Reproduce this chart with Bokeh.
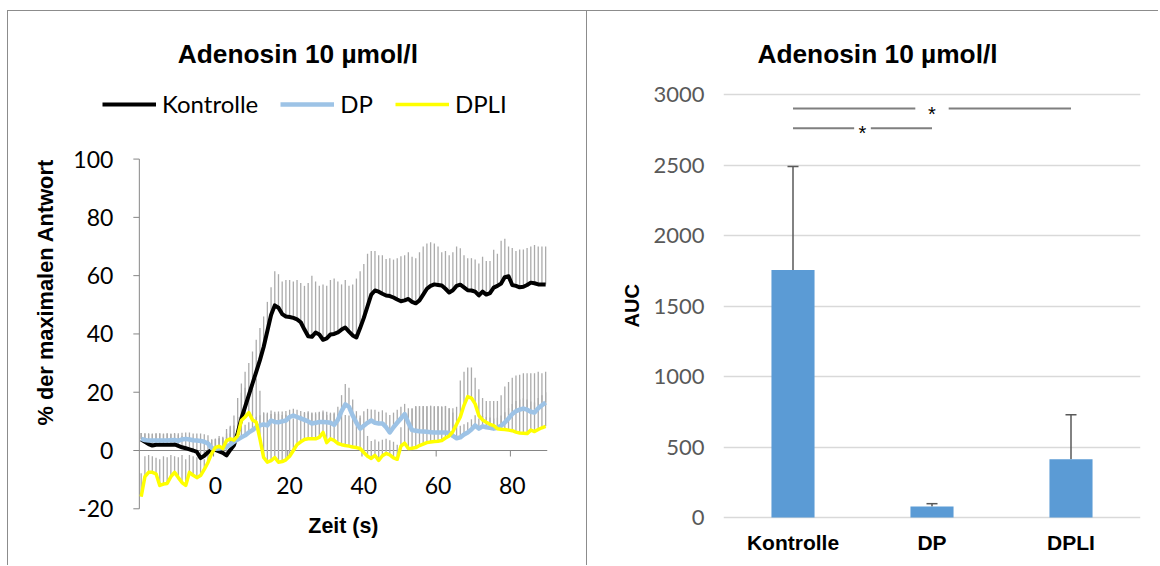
import math
from bokeh.plotting import figure
from bokeh.layouts import row
from bokeh.models import (ColumnDataSource, FactorRange, FixedTicker, Legend,
                          LegendItem, Whisker, TeeHead, Range1d, Title)
from bokeh.embed import file_html
from bokeh.resources import INLINE
from bokeh.core.properties import value

# ---------------- data ----------------
# time course, one sample per second
time_s = list(range(-20, 90))

kontrolle_mean = [
    3.8, 3.0, 2.2, 1.7, 2.0, 2.0, 2.0, 2.0, 2.0, 2.1,
    1.6, 1.1, 0.8, 0.4, 0.0, -0.5, -2.6, -1.8, -0.6, 0.3,
    0.2, -0.3, -0.8, -1.7, 0.2, 1.8, 6.0, 11.0, 15.0, 19.0,
    23.0, 27.0, 31.0, 35.5, 41.0, 46.5, 49.8, 49.0, 46.8, 46.0,
    45.8, 45.5, 45.0, 44.0, 41.5, 39.2, 39.0, 40.5, 39.8, 38.0,
    38.5, 39.8, 40.0, 40.5, 41.5, 42.2, 40.8, 39.5, 38.8, 42.0,
    45.5, 49.5, 53.5, 54.9, 54.5, 53.8, 53.2, 53.0, 52.5, 51.8,
    51.2, 51.5, 52.0, 51.0, 50.5, 51.5, 53.5, 55.5, 56.5, 57.0,
    56.8, 56.6, 55.5, 54.2, 55.0, 56.5, 56.9, 56.0, 55.0, 54.9,
    54.5, 53.2, 54.5, 53.5, 54.0, 55.9, 56.5, 57.3, 59.5, 59.8,
    56.8, 56.5, 56.0, 56.2, 56.8, 57.6, 57.4, 57.0, 57.0, 57.0,
]
kontrolle_sem = [
    2.2, 2.8, 3.5, 4.0, 3.8, 3.8, 3.6, 3.8, 3.7, 3.6,
    3.8, 3.8, 3.9, 4.2, 4.4, 4.6, 5.5, 4.8, 4.0, 3.5,
    3.8, 4.5, 5.5, 7.5, 7.8, 10.2, 12.0, 12.0, 12.0, 11.0,
    11.0, 11.0, 11.0, 10.5, 10.0, 9.5, 11.7, 11.5, 11.2, 12.5,
    12.7, 12.5, 13.5, 13.5, 15.0, 18.3, 21.0, 17.5, 16.7, 19.0,
    18.0, 18.7, 19.0, 17.5, 15.5, 16.3, 15.7, 17.5, 20.2, 19.5,
    18.5, 18.0, 15.0, 13.6, 12.5, 13.2, 12.5, 13.0, 13.0, 14.2,
    15.5, 15.5, 16.0, 15.5, 15.5, 16.5, 16.5, 15.5, 15.0, 14.0,
    13.2, 11.4, 13.0, 12.8, 13.0, 13.5, 12.5, 11.0, 11.0, 11.1,
    11.0, 11.0, 12.0, 11.5, 11.0, 13.0, 11.0, 14.7, 13.2, 10.2,
    12.7, 12.0, 13.0, 12.8, 12.7, 12.4, 13.1, 13.0, 13.0, 13.0,
]
dp_mean = [
    4.0, 3.6, 3.4, 3.4, 3.4, 3.4, 3.4, 3.4, 3.5, 3.6,
    3.3, 3.8, 4.0, 3.8, 3.5, 3.4, 3.3, 3.0, 2.4, 0.8,
    0.6, 0.7, 0.9, 1.1, 2.0, 3.0, 3.8, 4.5, 5.2, 6.2,
    7.0, 8.0, 8.6, 9.0, 8.6, 10.3, 9.8, 9.7, 10.0, 10.3,
    11.5, 12.0, 11.5, 11.0, 10.5, 10.0, 9.3, 9.5, 9.8, 9.8,
    9.7, 9.5, 8.8, 10.5, 13.5, 15.8, 15.0, 12.0, 9.5, 7.5,
    8.5, 9.5, 10.3, 9.5, 9.3, 9.3, 8.0, 6.2, 8.0, 9.5,
    11.0, 12.5, 9.5, 7.0, 6.8, 6.6, 6.5, 6.4, 6.3, 6.2,
    6.2, 6.2, 6.2, 6.0, 5.0, 4.2, 4.5, 5.5, 6.2, 7.2,
    8.6, 7.5, 8.3, 8.0, 7.8, 7.5, 7.8, 8.5, 9.6, 11.0,
    12.5, 13.5, 14.0, 14.4, 14.0, 13.3, 13.0, 14.5, 15.5, 16.5,
]
dp_sem = [
    2.0, 2.3, 2.5, 2.4, 2.5, 2.5, 2.4, 2.5, 2.3, 2.4,
    2.6, 2.3, 2.2, 2.4, 2.3, 2.4, 2.5, 2.6, 2.8, 3.0,
    3.2, 3.4, 3.5, 3.6, 3.8, 3.5, 3.4, 3.5, 3.6, 3.5,
    3.4, 3.6, 3.5, 3.8, 3.9, 3.4, 3.5, 3.7, 3.4, 3.3,
    2.5, 2.3, 2.5, 2.6, 2.7, 3.0, 3.5, 3.6, 3.5, 3.3,
    3.6, 3.5, 3.8, 4.5, 5.5, 7.0, 6.5, 5.5, 4.0, 4.5,
    5.0, 4.8, 3.8, 4.5, 4.0, 4.5, 5.0, 6.0, 5.0, 4.5,
    4.0, 3.5, 5.0, 7.5, 8.5, 8.6, 8.8, 8.8, 8.9, 9.0,
    9.0, 9.0, 9.0, 8.5, 8.0, 4.5, 4.0, 3.5, 3.5, 3.5,
    3.5, 3.5, 3.5, 3.5, 3.5, 3.5, 3.5, 3.5, 3.5, 3.5,
    3.5, 3.5, 3.5, 3.5, 3.5, 3.5, 3.5, 3.5, 3.5, 3.5,
]
dpli_mean = [
    -15.8, -9.0, -7.5, -7.5, -8.0, -12.0, -11.5, -11.3, -9.0, -7.5,
    -9.3, -11.0, -12.0, -7.5, -8.5, -9.3, -8.6, -6.5, -4.1, -1.0,
    1.0, 1.5, 0.7, 3.4, 4.0, 3.6, 5.0, 10.3, 11.5, 13.0,
    10.5, 9.7, 4.0, -2.4, -4.0, -3.5, -2.4, -4.0, -3.8, -3.2,
    -2.0, 0.0, 2.0, 3.0, 3.8, 4.0, 4.0, 4.0, 4.5, 6.2,
    2.7, 4.0, 3.5, 2.4, 2.0, 1.7, 1.5, 1.2, 1.0, 0.7,
    -0.7, -2.0, -2.7, -1.7, -3.4, -1.8, -1.0, -1.5, -2.5, -3.0,
    1.5, 2.5, 0.7, 0.8, 1.0, 1.7, 2.2, 2.7, 2.9, 3.1,
    3.2, 3.4, 4.3, 5.0, 6.5, 9.0, 11.5, 15.5, 18.5, 18.0,
    16.0, 12.0, 10.5, 9.7, 9.0, 8.5, 7.5, 7.3, 7.2, 7.0,
    6.8, 6.3, 6.0, 5.9, 5.8, 7.0, 6.5, 7.2, 7.8, 8.3,
]
dpli_sem = [
    8.0, 7.0, 6.0, 5.5, 5.5, 9.0, 9.5, 9.0, 7.5, 5.5,
    7.0, 9.5, 9.0, 6.0, 6.5, 7.0, 6.5, 3.5, 3.0, 2.5,
    3.0, 3.5, 3.5, 4.0, 4.5, 5.0, 6.5, 9.5, 10.0, 9.0,
    12.0, 15.0, 16.5, 15.5, 17.0, 16.0, 15.0, 16.5, 16.0, 15.5,
    13.5, 11.0, 10.0, 9.0, 9.0, 9.5, 9.0, 8.5, 8.5, 7.5,
    9.5, 8.5, 9.5, 10.0, 10.5, 10.5, 10.5, 11.0, 11.0, 10.5,
    9.0, 7.0, 6.0, 5.5, 6.5, 5.5, 5.0, 5.0, 5.5, 5.0,
    6.5, 9.0, 12.0, 13.5, 14.0, 13.5, 13.0, 12.5, 12.5, 12.0,
    12.0, 11.5, 11.0, 9.5, 8.0, 6.0, 12.5, 11.5, 10.0, 10.5,
    9.0, 9.0, 7.5, 7.3, 8.0, 8.5, 9.5, 11.7, 14.8, 16.5,
    18.2, 19.4, 20.0, 20.6, 20.7, 19.5, 20.0, 19.8, 18.7, 18.7,
]

time_ticks = [0, 20, 40, 60, 80]
pct_ticks = [-20, 0, 20, 40, 60, 80, 100]

groups = ["Kontrolle", "DP", "DPLI"]
auc_mean = [1755, 78, 413]
auc_sem = [735, 20, 315]
auc_ticks = [0, 500, 1000, 1500, 2000, 2500, 3000]

# significance brackets: (group a, group b, height)
brackets = [("Kontrolle", "DPLI", 2900), ("Kontrolle", "DP", 2760)]

TITLE = "Adenosin 10 µmol/l"
BODY_FONT = "Lato"
BOLD_FONT = "Liberation Sans"
PANEL_BORDER = "1px solid #8c8c8c"
AXIS_GREY = "#868686"

# Both frames fill their panel height (row layouts align frames); titles,
# legend and category labels live inside the padded view ranges.
X_VIEW = (-40.13, 89.5)
PCT_VIEW = (-39.80, 150.64)
AUC_VIEW = (-347.5, 3588.7)

# ---------------- time course panel ----------------
x_lo, x_hi = time_s[0] - 0.5, time_s[-1] + 0.5
p1 = figure(width=580, height=555, x_range=Range1d(*X_VIEW),
            y_range=Range1d(*PCT_VIEW),
            output_backend="svg", toolbar_location=None,
            x_axis_location=None, y_axis_location=None,
            min_border_left=58, min_border_right=41,
            min_border_top=0, min_border_bottom=0)
p1.grid.visible = False
p1.outline_line_color = None
p1.margin = (10, 0, 0, 7)
p1.styles = {"border-top": PANEL_BORDER, "border-left": PANEL_BORDER,
             "border-right": PANEL_BORDER}

# value axis at the start of the time window
p1.segment(x0=[x_lo], y0=[pct_ticks[0]], x1=[x_lo], y1=[pct_ticks[-1]],
           line_color=AXIS_GREY, line_width=1)
p1.ray(x=[x_lo] * len(pct_ticks), y=pct_ticks, length=6, length_units="screen",
       angle=math.pi, line_color=AXIS_GREY, line_width=1)
p1.text(x=[x_lo] * len(pct_ticks), y=pct_ticks, text=[str(t) for t in pct_ticks],
        x_offset=-26, text_align="right", text_baseline="middle",
        text_font=value(BODY_FONT), text_font_size="23px", text_color="black")

# time axis running through zero
p1.segment(x0=[x_lo], y0=[0], x1=[x_hi], y1=[0], line_color=AXIS_GREY, line_width=1)
p1.ray(x=[t - 0.5 for t in time_ticks], y=[0] * len(time_ticks), length=6,
       length_units="screen", angle=-math.pi / 2, line_color=AXIS_GREY, line_width=1)
p1.text(x=time_ticks, y=[-12] * len(time_ticks), text=[str(t) for t in time_ticks],
        text_align="center", text_baseline="middle",
        text_font=value(BODY_FONT), text_font_size="23px", text_color="black")
p1.text(x=[(x_lo + x_hi) / 2], y=[-26], text=["Zeit (s)"],
        text_align="center", text_baseline="middle",
        text_font=value(BOLD_FONT), text_font_style="bold",
        text_font_size="21.4px", text_color="black")

# SEM bars (upper side)
err_color = "#ababab"
for mean, sem in ((kontrolle_mean, kontrolle_sem), (dp_mean, dp_sem), (dpli_mean, dpli_sem)):
    p1.segment(x0=time_s, y0=mean, x1=time_s, y1=[m + s for m, s in zip(mean, sem)],
               line_color=err_color, line_width=1.3)

r_k = p1.line(time_s, kontrolle_mean, line_color="black", line_width=4, line_join="round")
r_dp = p1.line(time_s, dp_mean, line_color="#9dc3e6", line_width=4.5, line_join="round")
r_dpli = p1.line(time_s, dpli_mean, line_color="#ffff00", line_width=3.5, line_join="round")

legend = Legend(items=[LegendItem(label="Kontrolle", renderers=[r_k]),
                       LegendItem(label="DP", renderers=[r_dp]),
                       LegendItem(label="DPLI", renderers=[r_dpli])],
                orientation="horizontal", location=(36, 447.6),
                label_text_font=BODY_FONT, label_text_font_size="24px",
                label_text_color="black",
                glyph_width=54, glyph_height=20, label_standoff=6, spacing=22,
                padding=0, margin=0, border_line_color=None,
                background_fill_alpha=0)
p1.add_layout(legend)

p1.text(x=[22.23], y=[135.9], text=[TITLE], text_align="center",
        text_baseline="alphabetic", text_font=value(BOLD_FONT),
        text_font_style="bold", text_font_size="26.3px", text_color="black")
p1.add_layout(Title(text="% der maximalen Antwort", align="left", offset=141,
                    standoff=17, text_font=BOLD_FONT, text_font_style="bold",
                    text_font_size="21.8px", text_color="black"), "left")

# ---------------- AUC panel ----------------
p2 = figure(width=571, height=555, x_range=FactorRange(*groups),
            y_range=Range1d(*AUC_VIEW),
            output_backend="svg", toolbar_location=None,
            x_axis_location=None,
            min_border_left=136, min_border_right=18,
            min_border_top=0, min_border_bottom=0)
p2.outline_line_color = None
p2.xgrid.visible = False
p2.ygrid.grid_line_color = "#d9d9d9"
p2.ygrid.grid_line_width = 1.3
p2.margin = (10, 0, 0, 0)
p2.styles = {"border-top": PANEL_BORDER}

ya2 = p2.yaxis[0]
ya2.ticker = FixedTicker(ticks=auc_ticks)
ya2.axis_line_color = None
ya2.major_tick_line_color = None
ya2.minor_tick_line_color = None
ya2.major_label_text_font = BODY_FONT
ya2.major_label_text_font_size = "22px"
ya2.major_label_text_color = "#595959"
ya2.major_label_standoff = 13
p2.ygrid.ticker = FixedTicker(ticks=auc_ticks)

# category labels under the zero line
p2.text(x=groups, y=[-177] * len(groups), text=groups,
        text_align="center", text_baseline="middle",
        text_font=value(BOLD_FONT), text_font_style="bold",
        text_font_size="21px", text_color="black")

auc_src = ColumnDataSource(data=dict(
    group=groups, mean=auc_mean,
    upper=[m + s for m, s in zip(auc_mean, auc_sem)]))
p2.vbar(x="group", top="mean", width=0.31, source=auc_src,
        fill_color="#5b9bd5", line_color=None)
p2.add_layout(Whisker(base="group", lower="mean", upper="upper", source=auc_src,
                      line_color="#595959", line_width=1.5,
                      upper_head=TeeHead(size=11, line_color="#595959", line_width=1.5),
                      lower_head=None))

# significance brackets with a gap for the asterisk
centers = {g: i + 0.5 for i, g in enumerate(groups)}
for a, b, h in brackets:
    xa, xb = centers[a], centers[b]
    mid = (xa + xb) / 2
    gap = 0.06 if (xb - xa) < 1.5 else 0.12
    p2.segment(x0=[xa, mid + gap], y0=[h, h], x1=[mid - gap, xb], y1=[h, h],
               line_color="#7f7f7f", line_width=2)
    p2.text(x=[mid], y=[h], text=["*"], text_align="center", text_baseline="middle",
            text_font=value(BOLD_FONT), text_font_size="20px", text_color="black",
            y_offset=5)

p2.text(x=[1.108], y=[3284], text=[TITLE], text_align="center",
        text_baseline="alphabetic", text_font=value(BOLD_FONT),
        text_font_style="bold", text_font_size="26.3px", text_color="black")
p2.add_layout(Title(text="AUC", align="left", offset=239, standoff=16,
                    text_font=BOLD_FONT, text_font_style="bold",
                    text_font_size="20px", text_color="black"), "left")

layout = row(p1, p2)
open("out.html", "w").write(file_html(layout, INLINE))
